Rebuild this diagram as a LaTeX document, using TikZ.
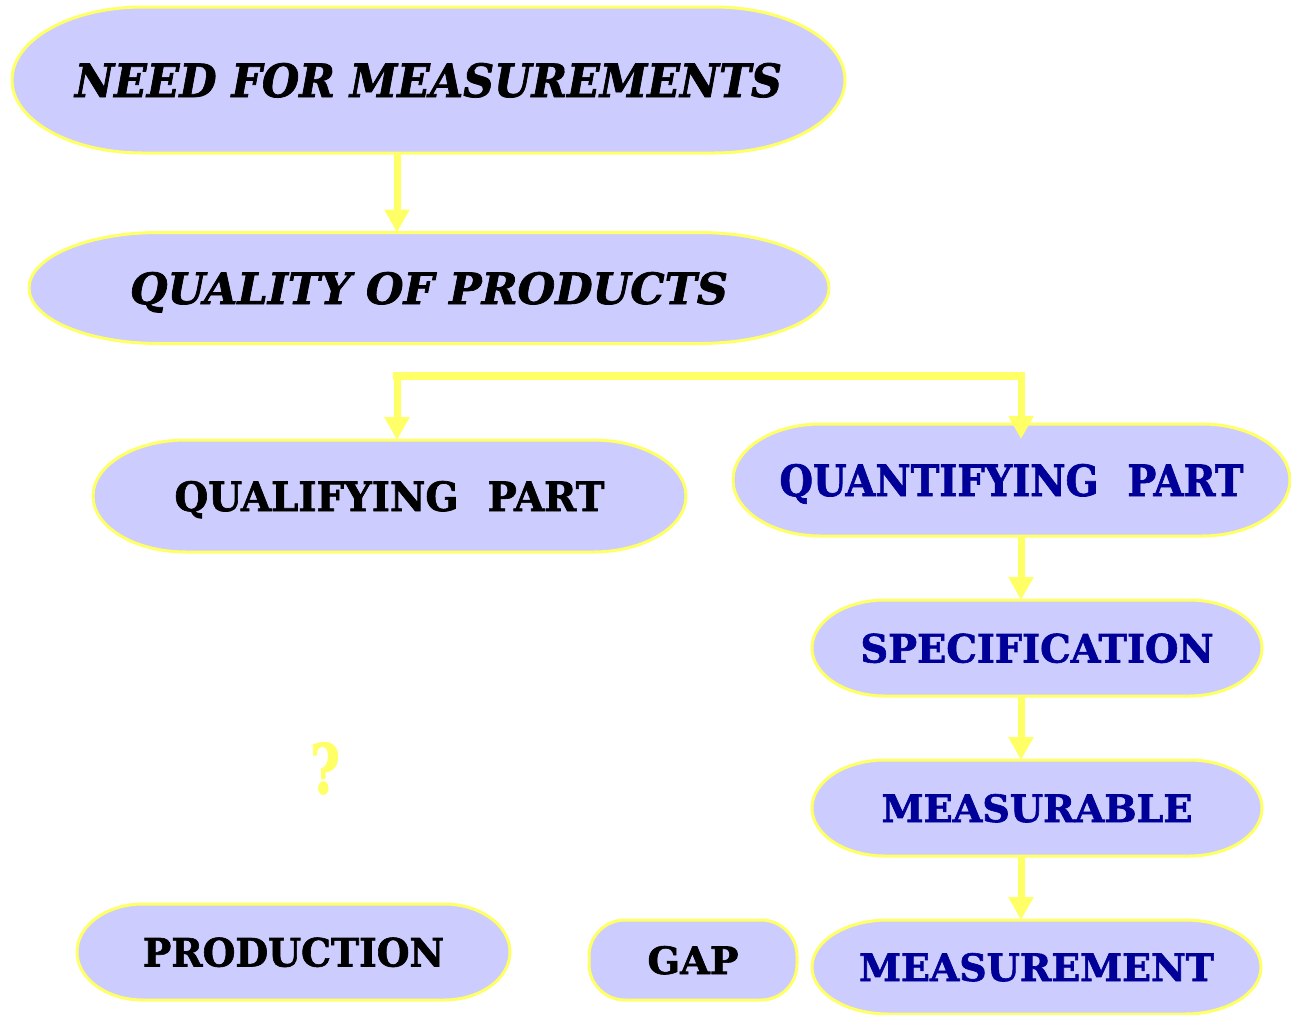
\documentclass[tikz,border=0pt]{standalone}
\usepackage{fontspec}
\setmainfont{DejaVu Serif}[BoldFeatures={FakeBold=1.6},BoldItalicFeatures={FakeBold=1.6}]
\usepackage{graphicx}
\usetikzlibrary{arrows.meta,backgrounds}
\definecolor{pillfill}{HTML}{CCCCFF}
\definecolor{pilledge}{HTML}{FFFF66}
\definecolor{navy}{HTML}{000099}
% set a caption to an exact width and capital height
\newcommand\capfit[3]{\resizebox{#1pt}{#2pt}{#3}}
% rounded box with elliptic corners around a named node
\newcommand\pillat[3]{%
  \draw[pillshape] ([xshift=#2pt]#1.north west) -- ([xshift=-#2pt]#1.north east)
    arc[start angle=90,end angle=0,x radius=#2pt,y radius=#3pt]
    -- ([yshift=#3pt]#1.south east)
    arc[start angle=0,end angle=-90,x radius=#2pt,y radius=#3pt]
    -- ([xshift=#2pt]#1.south west)
    arc[start angle=270,end angle=180,x radius=#2pt,y radius=#3pt]
    -- ([yshift=-#3pt]#1.north west)
    arc[start angle=180,end angle=90,x radius=#2pt,y radius=#3pt] -- cycle;}
\begin{document}
\begin{tikzpicture}[x=1pt,y=-1pt,
  pill/.style={inner sep=0pt,outer sep=0pt,text depth=0pt,font=\bfseries},
  pillshape/.style={fill=pillfill,draw=pilledge,line width=3pt},
  conn/.style={draw=pilledge,line width=7pt,-{Triangle[width=24pt,length=23pt]}},
  busline/.style={draw=pilledge,line width=7.5pt,line cap=rect},
  qmark/.style={inner sep=0pt,outer sep=0pt,text=pilledge,font=\bfseries}]
\useasboundingbox (0,0) rectangle (1291,1015);

% boxes and their captions
\node[pill,minimum width=833pt,minimum height=146pt] (need) at (428.5,80)
  {\capfit{707}{34}{\itshape NEED FOR MEASUREMENTS}};
\node[pill,minimum width=800pt,minimum height=111pt] (quality) at (429,288)
  {\capfit{598}{32}{\itshape QUALITY OF PRODUCTS}};
\node[pill,minimum width=593pt,minimum height=112pt] (qualifying) at (389.5,496)
  {\capfit{430}{30}{QUALIFYING\hspace{0.75em}PART}};
\node[pill,text=navy,minimum width=557pt,minimum height=112pt] (quantifying) at (1011.5,480)
  {\capfit{464}{32}{QUANTIFYING\hspace{0.75em}PART}};
\node[pill,text=navy,minimum width=450pt,minimum height=96pt] (spec) at (1037,648)
  {\capfit{353}{29}{SPECIFICATION}};
\node[pill,text=navy,minimum width=450pt,minimum height=96pt] (measurable) at (1037,808)
  {\capfit{311}{28}{MEASURABLE}};
\node[pill,text=navy,minimum width=449pt,minimum height=94pt] (measurement) at (1036.5,967)
  {\capfit{355}{28}{MEASUREMENT}};
\node[pill,minimum width=208pt,minimum height=80pt] (gap) at (693,960)
  {\capfit{91}{28}{GAP}};
\node[pill,minimum width=433pt,minimum height=96pt] (production) at (293.5,952)
  {\capfit{301}{29}{PRODUCTION}};
\node[qmark] (qm) at (325,768.5) {\capfit{30}{51}{?}};

\begin{scope}[on background layer]
  \pillat{need}{131}{73}
  \pillat{quality}{130}{55.5}
  \pillat{qualifying}{93}{56}
  \pillat{quantifying}{88}{56}
  \pillat{spec}{73}{48}
  \pillat{measurable}{73}{48}
  \pillat{measurement}{76}{47}
  \pillat{gap}{36}{36}
  \pillat{production}{66}{48}
\end{scope}

% connectors
\coordinate (ax) at (397,0);
\coordinate (rc) at (1021,0);
\coordinate (bl) at (397,376);
\coordinate (br) at (1021,376);
\coordinate (tq) at (1021,439);
\draw[conn] (need.south -| ax) -- (quality.north -| ax);
\draw[busline] (bl) -- (br);
\draw[conn] (bl) -- (qualifying.north -| bl);
\draw[conn] (br) -- (tq);
\draw[conn] (quantifying.south -| rc) -- (spec.north -| rc);
\draw[conn] (spec.south -| rc) -- (measurable.north -| rc);
\draw[conn] (measurable.south -| rc) -- (measurement.north -| rc);
\end{tikzpicture}
\end{document}
